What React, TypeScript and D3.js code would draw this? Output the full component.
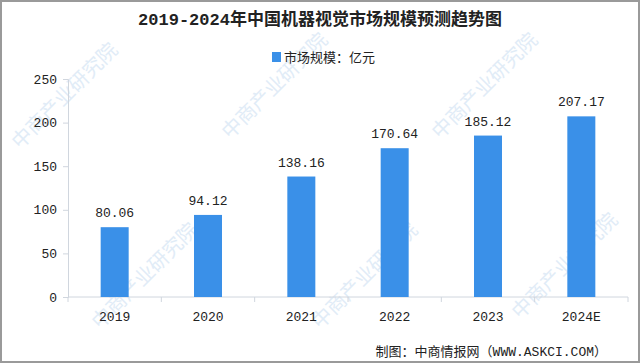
import { useEffect, useRef } from "react";
import * as d3 from "d3";

const years = ["2019", "2020", "2021", "2022", "2023", "2024E"];
const marketSize = [80.06, 94.12, 138.16, 170.64, 185.12, 207.17];
const yTicks = [0, 50, 100, 150, 200, 250];

const W = 640;
const H = 363;
const FONT = "'Liberation Mono', 'Noto Sans CJK SC', monospace";

const App = () => {
    const svgRef = useRef<SVGSVGElement | null>(null);

    useEffect(() => {
        const margin = { top: 79, right: 12, bottom: 66, left: 68 };
        const width = W - margin.left - margin.right;
        const height = H - margin.top - margin.bottom;

        const root = d3.select(svgRef.current);
        root.selectAll("*").remove();

        // background + frame
        root.append("rect").attr("width", W).attr("height", H).attr("fill", "#ffffff");
        root.append("rect")
            .attr("x", 1).attr("y", 1).attr("width", W - 2).attr("height", H - 2)
            .attr("fill", "none").attr("stroke", "#9a9a9a").attr("stroke-width", 2);

        // watermarks (kept inside the frame)
        const wm = root.append("g").attr("fill", "#e1ecf7").attr("font-family", FONT)
            .attr("font-size", 20);
        const wmPos = [[20, 150], [230, 140], [440, 140], [100, 330], [320, 330], [520, 320]];
        wmPos.forEach(([x, y]) => {
            wm.append("text")
                .attr("transform", `translate(${x},${y}) rotate(-45)`)
                .text("中商产业研究院");
        });

        // title
        root.append("text")
            .attr("x", W / 2).attr("y", 25)
            .attr("text-anchor", "middle")
            .attr("font-family", FONT)
            .attr("font-size", 17).attr("font-weight", "bold")
            .attr("fill", "#222")
            .text("2019-2024年中国机器视觉市场规模预测趋势图");

        // legend
        root.append("rect").attr("x", 272).attr("y", 52).attr("width", 9).attr("height", 10).attr("fill", "#3a90e8");
        root.append("text")
            .attr("x", 284).attr("y", 62)
            .attr("font-family", FONT).attr("font-size", 13).attr("fill", "#222")
            .text("市场规模：亿元");

        const svg = root.append("g").attr("transform", `translate(${margin.left},${margin.top})`);

        const x = d3.scaleBand().domain(years).range([0, width]).paddingInner(0.7).paddingOuter(0.35);
        const y = d3.scaleLinear().domain([0, 250]).range([height, 0]);

        // y axis
        const yAxis = svg.append("g")
            .call(d3.axisLeft(y).tickValues(yTicks).tickSize(5).tickPadding(6));
        yAxis.select(".domain").attr("stroke", "#d0d6de");
        yAxis.selectAll(".tick line").attr("stroke", "#d0d6de");
        yAxis.selectAll("text").attr("font-family", FONT).attr("font-size", 13).attr("fill", "#222");

        // x axis with ticks at band boundaries
        const xAxis = svg.append("g").attr("transform", `translate(0,${height})`);
        xAxis.append("line").attr("x1", 0).attr("x2", width).attr("stroke", "#d0d6de");
        const step = x.step();
        const x0 = x(years[0])! - step * 0.35;
        d3.range(years.length + 1).forEach((i) => {
            xAxis.append("line")
                .attr("x1", x0 + i * step).attr("x2", x0 + i * step)
                .attr("y1", 0).attr("y2", 5).attr("stroke", "#d0d6de");
        });
        xAxis.selectAll(".lbl").data(years).enter().append("text")
            .attr("class", "lbl")
            .attr("x", (d) => x(d)! + x.bandwidth() / 2)
            .attr("y", 24)
            .attr("text-anchor", "middle")
            .attr("font-family", FONT).attr("font-size", 13).attr("fill", "#222")
            .text((d) => d);

        // bars
        svg.selectAll(".bar").data(marketSize).enter().append("rect")
            .attr("class", "bar")
            .attr("x", (_, i) => x(years[i])!)
            .attr("y", (d) => y(d))
            .attr("width", x.bandwidth())
            .attr("height", (d) => height - y(d))
            .attr("fill", "#3a90e8");

        svg.selectAll(".val").data(marketSize).enter().append("text")
            .attr("class", "val")
            .attr("x", (_, i) => x(years[i])! + x.bandwidth() / 2)
            .attr("y", (d) => y(d) - 10)
            .attr("text-anchor", "middle")
            .attr("font-family", FONT).attr("font-size", 13).attr("fill", "#222")
            .text((d) => d.toFixed(2));

        // footer
        root.append("text")
            .attr("x", 607).attr("y", 356)
            .attr("text-anchor", "end")
            .attr("font-family", FONT).attr("font-size", 13).attr("fill", "#222")
            .text("制图：中商情报网（WWW.ASKCI.COM）");
    }, []);

    return <svg ref={svgRef} width={W} height={H} style={{ position: "absolute", left: 0, top: 0 }}></svg>;
};

export default App;
